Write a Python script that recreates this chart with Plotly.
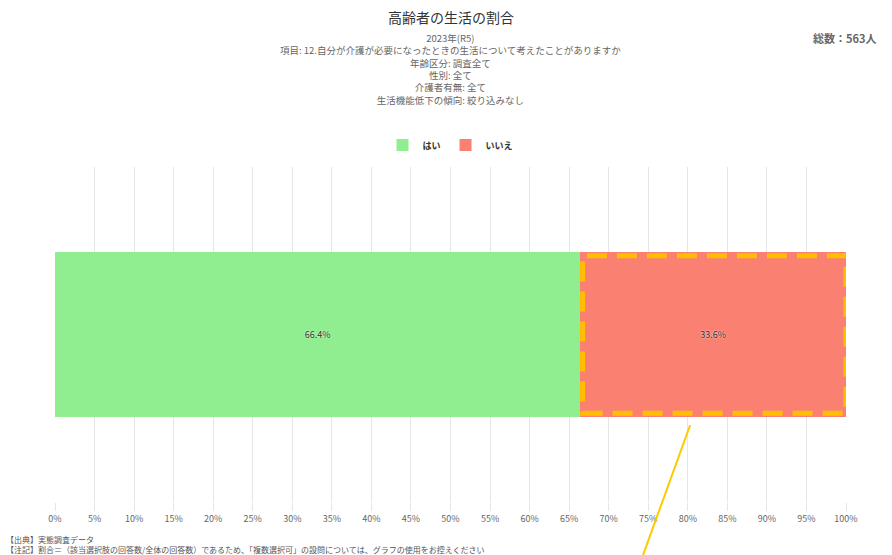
import plotly.graph_objects as go

categories = ["はい", "いいえ"]
values = [66.4, 33.6]
colors = ["#90EE90", "#FA8072"]
tick_vals = list(range(0, 101, 5))
tick_text = [f"{v}%" for v in tick_vals]
title = "高齢者の生活の割合"
subtitle_lines = [
    "2023年(R5)",
    "項目: 12.自分が介護が必要になったときの生活について考えたことがありますか",
    "年齢区分: 調査全て",
    "性別: 全て",
    "介護者有無: 全て",
    "生活機能低下の傾向: 絞り込みなし",
]
total_label = "総数：563人"
notes = [
    "【出典】実態調査データ",
    "【注記】割合＝（該当選択肢の回答数/全体の回答数）であるため、「複数選択可」の設問については、グラフの使用をお控えください",
]

FONT = "Noto Sans CJK JP"
T, B = 167, 53
H = 555
PH = H - T - B

def py(p):
    return (H - B - p) / PH

fig = go.Figure()
for cat, val, col in zip(categories, values, colors):
    fig.add_trace(go.Bar(
        y=["全体"], x=[val], name=cat, orientation="h",
        marker=dict(color=col, line=dict(width=0)),
        text=[f"{val}%"], textposition="inside", insidetextanchor="middle",
        textfont=dict(size=9, color="#333333", family=FONT, shadow="0px 0px 2px white"),
        width=0.49, hoverinfo="x+name",
    ))

fig.update_layout(
    barmode="stack",
    width=892, height=555,
    margin=dict(l=55, r=46, t=T, b=B),
    plot_bgcolor="white", paper_bgcolor="white",
    font=dict(family=FONT, color="#666666"),
    showlegend=True,
    legend=dict(orientation="h", x=0.5, xanchor="center", y=py(145), yanchor="middle",
                font=dict(size=9, color="#333333", family=FONT, weight="bold"), itemwidth=30,
                tracegroupgap=0, traceorder="normal"),
    xaxis=dict(range=[0, 100], tickvals=tick_vals, ticktext=tick_text,
               showgrid=True, gridcolor="#e6e6e6", gridwidth=1, zeroline=False,
               ticks="outside", ticklen=8, tickcolor="#e6e6e6",
               tickfont=dict(size=9, color="#666666"), fixedrange=True),
    yaxis=dict(showticklabels=False, showgrid=False, zeroline=False, fixedrange=True,
               range=[-0.5, 0.5]),
)

ann = [dict(text=title, x=0.5, y=py(17), xref="paper", yref="paper", showarrow=False,
            font=dict(size=14, color="#333333", family=FONT), xanchor="center", yanchor="middle")]
ann.append(dict(text="<br>".join(subtitle_lines), x=0.5, y=py(69.5), xref="paper", yref="paper",
                showarrow=False, align="center",
                font=dict(size=9.5, color="#666666", family=FONT), xanchor="center", yanchor="middle"))
ann.append(dict(text=f"<b>{total_label}</b>", x=(878 - 55) / 791, y=py(38), xref="paper", yref="paper",
                showarrow=False, font=dict(size=11, color="#666666", family=FONT),
                xanchor="right", yanchor="middle"))
ann.append(dict(text="<br>".join(notes), x=(4 - 55) / 791, y=py(544.5), xref="paper", yref="paper",
                showarrow=False, align="left",
                font=dict(size=8, color="#555555", family=FONT), xanchor="left", yanchor="middle"))
fig.update_layout(annotations=ann)

# highlight overlay
fig.add_shape(type="rect", xref="x", yref="y", x0=values[0] + 0.3, x1=100, y0=-0.235, y1=0.235,
              line=dict(color="#FFBF00", width=5, dash="20px,10px"), fillcolor="rgba(0,0,0,0)")
fig.add_shape(type="line", xref="x", yref="paper", x0=80.3, y0=py(425), x1=74.3, y1=py(556),
              line=dict(color="#FFC800", width=2))

fig.write_html("out.html", config={"displayModeBar": False})
with open("out.html", encoding="utf-8") as f:
    html = f.read()
html = html.replace("<body>", '<body style="margin:0;padding:0;overflow:hidden">', 1)
with open("out.html", "w", encoding="utf-8") as f:
    f.write(html)
